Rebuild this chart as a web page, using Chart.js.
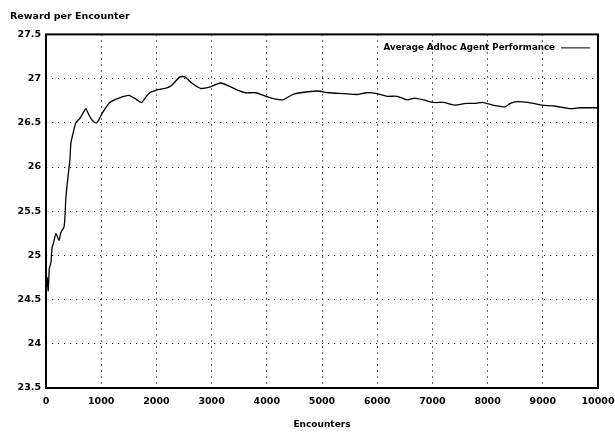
<!DOCTYPE html>
<html>
<head>
<meta charset="utf-8">
<script src="https://cdn.jsdelivr.net/npm/chart.js@4"></script>
<style>
  html, body { margin: 0; padding: 0; background: #fff; }
  #wrap { width: 615px; height: 434px; }
</style>
</head>
<body>
<div id="wrap"><canvas id="myLineChart"></canvas></div>
<script>
// encounters (x) and average reward (y)
const encounters = [0, 20, 40, 60, 90, 108, 140, 180, 235, 270, 325, 343, 361, 397, 433, 451, 490, 541, 614, 680,
    722, 770, 812, 870, 920, 970, 1029, 1155, 1321, 1500, 1625, 1732, 1857, 2000, 2160, 2268, 2428, 2518, 2640, 2800,
    2945, 3160, 3300, 3450, 3610, 3800, 3985, 4145, 4290, 4470, 4610, 4910, 5125, 5400, 5630, 5810, 6000, 6180, 6360,
    6540, 6680, 6840, 7020, 7200, 7400, 7610, 7790, 7910, 8090, 8320, 8410, 8540, 8730, 8980, 9210, 9500, 9680, 10000];
const reward = [24.55, 24.75, 24.6, 24.85, 24.92, 25.08, 25.15, 25.25, 25.17, 25.26, 25.32, 25.43, 25.66, 25.88, 26.08, 26.27, 26.38, 26.5, 26.55, 26.62,
    26.66, 26.6, 26.55, 26.51, 26.5, 26.55, 26.62, 26.73, 26.78, 26.81, 26.77, 26.73, 26.83, 26.87, 26.89, 26.92, 27.02, 27.02, 26.95, 26.89,
    26.9, 26.95, 26.92, 26.875, 26.84, 26.84, 26.8, 26.77, 26.76, 26.82, 26.84, 26.86, 26.84, 26.83, 26.82, 26.84, 26.83, 26.8, 26.8,
    26.76, 26.78, 26.76, 26.73, 26.73, 26.7, 26.72, 26.72, 26.73, 26.7, 26.68, 26.72, 26.74, 26.73, 26.7, 26.69, 26.66, 26.67, 26.67];
const seriesLabel = 'Average Adhoc Agent Performance';
const xTicks = [0, 1000, 2000, 3000, 4000, 5000, 6000, 7000, 8000, 9000, 10000];
const yTicks = [23.5, 24, 24.5, 25, 25.5, 26, 26.5, 27, 27.5];

const tickFont = { family: 'DejaVu Sans', weight: 'bold', size: 9.5 };
const textFont = { family: 'DejaVu Sans', weight: 'bold', size: 9 };

// thick frame round the plot area
const frame = {
    id: 'frame',
    afterDatasetsDraw(chart) {
        const { ctx, chartArea: a } = chart;
        ctx.save();
        ctx.strokeStyle = '#000';
        ctx.lineWidth = 2;
        ctx.strokeRect(a.left, a.top, a.right - a.left, a.bottom - a.top);
        ctx.restore();
    }
};

// legend in the top right corner: label first, line sample after it
const insideLegend = {
    id: 'insideLegend',
    afterDatasetsDraw(chart) {
        const { ctx, chartArea: a } = chart;
        const ds = chart.data.datasets[0];
        const y = a.top + 13;
        const lineEnd = a.right - 8;
        const lineStart = lineEnd - 29;
        ctx.save();
        ctx.font = 'bold 8.7px "DejaVu Sans"';
        ctx.fillStyle = '#000';
        ctx.textAlign = 'right';
        ctx.textBaseline = 'middle';
        ctx.fillText(ds.label, lineStart - 6, y);
        ctx.strokeStyle = ds.borderColor;
        ctx.lineWidth = 1;
        ctx.beginPath();
        ctx.moveTo(lineStart, y + 0.5);
        ctx.lineTo(lineEnd, y + 0.5);
        ctx.stroke();
        ctx.restore();
    }
};

const points = encounters.map((x, i) => ({ x: x, y: reward[i] }));

new Chart(document.querySelector('#myLineChart'), {
    type: 'line',
    data: {
        datasets: [{
            label: seriesLabel,
            data: points,
            borderColor: '#000',
            backgroundColor: '#000',
            borderWidth: 1.3,
            pointRadius: 0,
            tension: 0.2,
            fill: false
        }]
    },
    options: {
        responsive: true,
        maintainAspectRatio: false,
        animation: false,
        layout: { padding: { left: 10, right: 17, top: 0, bottom: 0 } },
        plugins: {
            title: {
                display: true,
                text: 'Reward per Encounter',
                align: 'start',
                color: '#000',
                font: { family: 'DejaVu Sans', weight: 'bold', size: 9.5 },
                padding: { top: 11, bottom: 12 }
            },
            legend: { display: false },
            tooltip: { enabled: false }
        },
        scales: {
            x: {
                type: 'linear',
                min: 0,
                max: 10000,
                afterBuildTicks: s => { s.ticks = xTicks.map(v => ({ value: v })); },
                afterFit: s => { s.height = 46; s.paddingLeft = 0; s.paddingRight = 0; },
                ticks: { color: '#000', font: tickFont, padding: 8, maxRotation: 0, callback: v => String(v) },
                grid: { color: '#000', lineWidth: 1, drawTicks: false },
                border: { display: false, dash: [1.2, 4.8] },
                title: { display: true, text: 'Encounters', color: '#000', font: textFont, padding: { top: 13 } }
            },
            y: {
                min: 23.5,
                max: 27.5,
                afterBuildTicks: s => { s.ticks = yTicks.map(v => ({ value: v })); },
                afterFit: s => { s.width = 36; s.paddingTop = 0; s.paddingBottom = 0; },
                ticks: { color: '#000', font: tickFont, padding: 5, callback: v => String(v) },
                grid: { color: '#000', lineWidth: 1, drawTicks: false },
                border: { display: false, dash: [1.2, 4.8] }
            }
        }
    },
    plugins: [frame, insideLegend]
});
</script>
</body>
</html>
